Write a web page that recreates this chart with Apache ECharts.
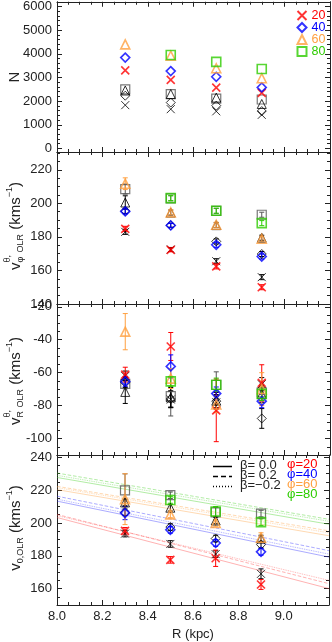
<!DOCTYPE html>
<html lang="en">
<head>
    <meta charset="UTF-8">
    <title>OLR</title>
    <script src="https://cdn.jsdelivr.net/npm/echarts@6/dist/echarts.min.js"></script>
    <style>
        html, body { margin: 0; padding: 0; background: #fff; }
        #main { width: 332px; height: 642px; }
    </style>
</head>
<body>
<div id="main"></div>
<script>
    // radii of the bins
    var R = [8.3, 8.5, 8.7, 8.9];

    // panel 1: N
    var nRed = [3300, 2900, 2570, 2350];
    var nBlue = [3840, 3270, 3030, 2580];
    var nOrange = [4400, 3920, 3390, 2970];
    var nGreen = [null, 3950, 3660, 3360];
    var nBlackX = [1830, 1660, 1570, 1420];
    var nBlackDia = [2230, 1940, 1810, 1580];
    var nBlackTri = [2450, 2300, 2150, 1880];
    var nGraySq = [2500, 2300, 2110, 2070];

    // panel 2: v_phi
    var vpRed = [184.8, 172.3, 162.4, 150.0];
    var vpBlue = [195.2, 186.8, 175.3, 168.3];
    var vpOrange = [211.7, 194.6, 187.2, 178.9];
    var vpGreen = [null, 203.1, 195.6, 188.2];
    var vpBlackX = [183.0, 172.5, 165.5, 156.0];
    var vpBlackDia = [195.5, 187.0, 177.3, 169.8];
    var vpBlackTri = [200.5, 194.5, 187.0, 179.5];
    var vpGraySq = [208.5, 203.0, 195.5, 193.2];
    var vpRedErr = [1.5, 1.2, 1.5, 1.5];
    var vpBlueErr = [1.5, 1.2, 1.5, 1.5];
    var vpOrangeErr = [3.5, 1.5, 1.5, 1.5];
    var vpGreenErr = [null, 1.5, 1.5, 1.5];
    var vpBlackXErr = [1.5, 1.2, 1.5, 1.5];
    var vpBlackDiaErr = [1.5, 1.2, 1.5, 1.5];
    var vpBlackTriErr = [4, 1.5, 1.5, 1.5];
    var vpGraySqErr = [3, 1.5, 1.5, 1.5];

    // panel 3: v_R
    var vrRed = [-61.2, -44.1, -82.9, -66.2];
    var vrBlue = [-65.3, -56.2, -72.7, -77.3];
    var vrOrange = [-35.1, -63.6, -79.3, -70.0];
    var vrGreen = [null, -65.3, -67.3, -72.9];
    var vrBlackX = [-62.0, -76.3, -78.0, -67.0];
    var vrBlackDia = [-66.0, -76.0, -77.3, -87.8];
    var vrBlackTri = [-71.7, -75.0, -77.0, -73.0];
    var vrGraySq = [-66.8, -74.3, -67.5, -72.0];
    var vrRedErr = [4.5, 8.5, 19, 11];
    var vrBlueErr = [3, 7, 4, 4];
    var vrOrangeErr = [11, 6, 5, 10];
    var vrGreenErr = [null, 3, 4, 4];
    var vrBlackXErr = [3, 5, 4, 4];
    var vrBlackDiaErr = [3, 5, 4, 6];
    var vrBlackTriErr = [7, 6, 5, 5];
    var vrGraySqErr = [3, 12, 8, 5];

    // panel 4: v_0
    var v0Red = [195.2, 177.5, 178.5, 162.5];
    var v0Blue = [206.0, 195.8, 187.8, 182.4];
    var v0Orange = [214.5, 205.2, 200.0, 191.0];
    var v0Green = [null, 214.0, 207.0, 200.5];
    var v0BlackX = [193.5, 187.2, 181.0, 169.0];
    var v0BlackDia = [206.5, 197.5, 190.5, 186.8];
    var v0BlackTri = [212.5, 209.3, 201.5, 190.5];
    var v0GraySq = [219.9, 216.9, 206.5, 205.7];
    var v0RedErr = [2, 2, 5, 3];
    var v0BlueErr = [4, 2, 2, 2];
    var v0OrangeErr = [15.5, 2, 2, 3];
    var v0GreenErr = [null, 2, 3, 2];
    var v0BlackXErr = [2, 2, 2, 3];
    var v0BlackDiaErr = [2, 2, 2, 2];
    var v0BlackTriErr = [2, 2, 2, 2];
    var v0GraySqErr = [10, 2, 3, 2];

    // model lines in panel 4 (values at R = 8.0 and 9.2)
    var RLine = [8.0, 9.2];
    var lRed0 = [203.3, 160.0], lRed2 = [205.2, 163.0], lRedM2 = [204.5, 165.0];
    var lBlue0 = [213.3, 179.2], lBlue2 = [216.3, 183.1], lBlueM2 = [214.5, 181.0];
    var lOrange0 = [220.3, 192.2], lOrange2 = [222.3, 195.2], lOrangeM2 = [221.5, 194.0];
    var lGreen0 = [227.7, 199.2], lGreen2 = [230.4, 202.2], lGreenM2 = [229.0, 201.0];

    // axis ranges
    var yMin = [-150, 140, -110, 150];
    var yMax = [6200, 230.6, -18.3, 241.4];
    var yStep = [1000, 20, 20, 20];
    var ySplit = [6, 5, 5, 5];
    var yMinor = [5, 4, 4, 4];

    var FONT = '"Liberation Sans", Arial, sans-serif';
    var INK = '#222';
    var X_PATH = 'path://M0,0L10,10M10,0L0,10';

    var kinds = [
        {name: '20', color: '#ff0000', symbol: X_PATH, size: 8, bw: 1.6},
        {name: '40', color: '#0000ff', symbol: 'diamond', size: 9, bw: 1.6},
        {name: '60', color: '#ffa040', symbol: 'triangle', size: 9, bw: 1.6},
        {name: '80', color: '#2ecc00', symbol: 'rect', size: 9, bw: 1.6},
        {name: 'bx', color: '#000000', symbol: X_PATH, size: 8, bw: 1},
        {name: 'bd', color: '#000000', symbol: 'diamond', size: 9, bw: 1},
        {name: 'bt', color: '#000000', symbol: 'triangle', size: 9, bw: 1},
        {name: 'bs', color: '#555555', symbol: 'rect', size: 9, bw: 1.2}
    ];

    var panelVals = [
        [nRed, nBlue, nOrange, nGreen, nBlackX, nBlackDia, nBlackTri, nGraySq],
        [vpRed, vpBlue, vpOrange, vpGreen, vpBlackX, vpBlackDia, vpBlackTri, vpGraySq],
        [vrRed, vrBlue, vrOrange, vrGreen, vrBlackX, vrBlackDia, vrBlackTri, vrGraySq],
        [v0Red, v0Blue, v0Orange, v0Green, v0BlackX, v0BlackDia, v0BlackTri, v0GraySq]
    ];
    var panelErrs = [
        null,
        [vpRedErr, vpBlueErr, vpOrangeErr, vpGreenErr, vpBlackXErr, vpBlackDiaErr, vpBlackTriErr, vpGraySqErr],
        [vrRedErr, vrBlueErr, vrOrangeErr, vrGreenErr, vrBlackXErr, vrBlackDiaErr, vrBlackTriErr, vrGraySqErr],
        [v0RedErr, v0BlueErr, v0OrangeErr, v0GreenErr, v0BlackXErr, v0BlackDiaErr, v0BlackTriErr, v0GraySqErr]
    ];
    // draw order: black first, colours on top
    var order = [7, 6, 5, 4, 0, 1, 2, 3];

    var tops = [0, 152, 304, 455];
    var heights = [152, 152, 151, 152];

    var grids = [], xAxes = [], yAxes = [], series = [];

    for (var p = 0; p < 4; p++) {
        grids.push({left: 57, right: 2, top: tops[p], height: heights[p]});
        ['bottom', 'top'].forEach(function (pos) {
            var labelled = (p === 3 && pos === 'bottom');
            xAxes.push({
                type: 'value', gridIndex: p, position: pos,
                min: 8.0, max: 9.2, interval: 0.2,
                axisLine: {show: true, onZero: false, lineStyle: {color: INK, width: 1}},
                axisTick: {show: true, inside: true, length: 5, lineStyle: {color: INK}},
                minorTick: {show: true, splitNumber: 4, length: 3, lineStyle: {color: INK}},
                splitLine: {show: false},
                axisLabel: {
                    show: labelled, fontSize: 13, fontFamily: FONT, color: INK, margin: 5,
                    formatter: function (v) { return v > 9.15 ? '' : v.toFixed(1); }
                },
                name: labelled ? 'R (kpc)' : '',
                nameLocation: 'middle', nameGap: 23,
                nameTextStyle: {fontSize: 13, fontFamily: FONT, color: INK}
            });
        });
        (function (p) {
            ['left', 'right'].forEach(function (pos) {
                yAxes.push({
                    type: 'value', gridIndex: p, position: pos,
                    min: yMin[p], max: yMax[p], splitNumber: ySplit[p],
                    axisLine: {show: true, onZero: false, lineStyle: {color: INK, width: 1}},
                    axisTick: {show: true, inside: true, length: 5, lineStyle: {color: INK}},
                    minorTick: {show: true, splitNumber: yMinor[p], length: 3, lineStyle: {color: INK}},
                    splitLine: {show: false},
                    axisLabel: {
                        show: pos === 'left', fontSize: 13, fontFamily: FONT, color: INK, margin: 5,
                        showMinLabel: true, showMaxLabel: true,
                        formatter: function (v) {
                            var k = v / yStep[p];
                            return Math.abs(k - Math.round(k)) < 1e-6 ? String(Math.round(v)) : '';
                        }
                    }
                });
            });
        })(p);
    }

    function errRender(params, api) {
        var x = api.value(0), lo = api.value(1), hi = api.value(2);
        var a = api.coord([x, lo]), b = api.coord([x, hi]);
        var c = 2.5;
        var st = {stroke: api.visual('color'), lineWidth: 1};
        return {
            type: 'group', children: [
                {type: 'line', shape: {x1: a[0], y1: a[1], x2: b[0], y2: b[1]}, style: st},
                {type: 'line', shape: {x1: a[0] - c, y1: a[1], x2: a[0] + c, y2: a[1]}, style: st},
                {type: 'line', shape: {x1: b[0] - c, y1: b[1], x2: b[0] + c, y2: b[1]}, style: st}
            ]
        };
    }

    // model lines first (under the points)
    var modelLines = [
        [lRed0, '#ff4040', 'solid'], [lRed2, '#ff4040', 'dashed'], [lRedM2, '#ff4040', 'dotted'],
        [lBlue0, '#3030ff', 'solid'], [lBlue2, '#3030ff', 'dashed'], [lBlueM2, '#3030ff', 'dotted'],
        [lOrange0, '#ffa040', 'solid'], [lOrange2, '#ffa040', 'dashed'], [lOrangeM2, '#ffa040', 'dotted'],
        [lGreen0, '#40d020', 'solid'], [lGreen2, '#40d020', 'dashed'], [lGreenM2, '#40d020', 'dotted']
    ];
    modelLines.forEach(function (m, i) {
        series.push({
            type: 'line', name: 'model' + i, xAxisIndex: 6, yAxisIndex: 6,
            data: RLine.map(function (r, j) { return [r, m[0][j]]; }),
            symbol: 'none', silent: true,
            lineStyle: {color: m[1], width: 0.9, type: m[2], opacity: 0.45},
            z: 1
        });
    });

    for (var p2 = 0; p2 < 4; p2++) {
        order.forEach(function (k) {
            var kind = kinds[k];
            var vals = panelVals[p2][k];
            var errs = panelErrs[p2] ? panelErrs[p2][k] : null;
            if (errs) {
                var ed = [];
                R.forEach(function (r, i) {
                    if (vals[i] != null && errs[i] != null) ed.push([r, vals[i] - errs[i], vals[i] + errs[i]]);
                });
                series.push({
                    type: 'custom', name: 'err' + p2 + kind.name,
                    xAxisIndex: p2 * 2, yAxisIndex: p2 * 2,
                    renderItem: errRender, data: ed, clip: true, silent: true,
                    encode: {x: 0, y: [1, 2]},
                    itemStyle: {color: kind.color, opacity: 0.7}, z: 2
                });
            }
            var d = [];
            R.forEach(function (r, i) { if (vals[i] != null) d.push([r, vals[i]]); });
            series.push({
                type: 'scatter',
                name: p2 === 0 && k < 4 ? kind.name : 'p' + p2 + kind.name,
                xAxisIndex: p2 * 2, yAxisIndex: p2 * 2,
                data: d, symbol: kind.symbol, symbolSize: kind.size,
                itemStyle: {color: 'none', borderColor: kind.color, borderWidth: kind.bw},
                z: 3
            });
        });
    }

    // rotated axis titles built from pieces (sub/superscripts)
    var measureCtx = document.createElement('canvas').getContext('2d');
    function textW(t, s) {
        measureCtx.font = s + 'px ' + FONT;
        return measureCtx.measureText(t).width;
    }
    function vTitle(cx, cy, parts) {
        var x = 0, lastW = 0, kids = [];
        parts.forEach(function (q) {
            var w = textW(q.t, q.s);
            var x0 = q.stack ? x - lastW : x;
            kids.push({
                type: 'text', x: x0, y: q.dy || 0,
                style: {text: q.t, font: q.s + 'px ' + FONT, fill: INK, align: 'left', verticalAlign: 'middle'}
            });
            x = q.stack ? Math.max(x, x0 + w) : x0 + w;
            lastW = w;
        });
        kids.forEach(function (c) { c.x -= x / 2; });
        return {type: 'group', x: cx, y: cy, rotation: Math.PI / 2, children: kids};
    }

    var graphics = [
        vTitle(15, 77, [{t: 'N', s: 15}]),
        vTitle(16, 226, [
            {t: 'v', s: 15}, {t: 'θ,', s: 9, dy: -8}, {t: 'φ', s: 9, dy: 5, stack: true},
            {t: ' OLR', s: 9, dy: 5}, {t: ' (kms', s: 15}, {t: '−1', s: 9, dy: -6}, {t: ')', s: 15}
        ]),
        vTitle(16, 381, [
            {t: 'v', s: 15}, {t: 'θ,', s: 9, dy: -8}, {t: 'R', s: 9, dy: 5, stack: true},
            {t: ' OLR', s: 9, dy: 5}, {t: ' (kms', s: 15}, {t: '−1', s: 9, dy: -6}, {t: ')', s: 15}
        ]),
        vTitle(16, 528, [
            {t: 'v', s: 15}, {t: '0,OLR', s: 9, dy: 5}, {t: ' (kms', s: 15}, {t: '−1', s: 9, dy: -6}, {t: ')', s: 15}
        ])
    ];

    // panel 4 legend
    var betaLabels = ['β= 0.0', 'β= 0.2', 'β=−0.2'];
    var betaDash = [null, [5, 3], [1, 2]];
    betaLabels.forEach(function (t, i) {
        graphics.push({
            type: 'line', shape: {x1: 213, y1: 466.5 + i * 10, x2: 232, y2: 466.5 + i * 10},
            style: {stroke: '#000', lineWidth: 1.5, lineDash: betaDash[i]}
        });
        graphics.push({
            type: 'text', x: 240, y: 465 + i * 10,
            style: {text: t, font: '13px ' + FONT, fill: INK, verticalAlign: 'middle'}
        });
    });
    var phiLabels = ['φ=20', 'φ=40', 'φ=60', 'φ=80'];
    var phiColors = ['#ff0000', '#0000ff', '#ffa040', '#2ecc00'];
    phiLabels.forEach(function (t, i) {
        graphics.push({
            type: 'text', x: 287, y: 464 + i * 10,
            style: {text: t, font: '13px ' + FONT, fill: phiColors[i], verticalAlign: 'middle'}
        });
    });

    var option = {
        animation: false,
        backgroundColor: '#fff',
        grid: grids,
        xAxis: xAxes,
        yAxis: yAxes,
        legend: {
            orient: 'vertical', left: 295, top: 8.5, padding: 0,
            itemWidth: 9, itemHeight: 9, itemGap: -2, selectedMode: false,
            textStyle: {fontSize: 12.5, fontFamily: FONT, lineHeight: 11},
            data: [
                {name: '20', textStyle: {color: '#ff0000'}},
                {name: '40', textStyle: {color: '#0000ff'}},
                {name: '60', textStyle: {color: '#ffa040'}},
                {name: '80', textStyle: {color: '#2ecc00'}}
            ]
        },
        graphic: graphics,
        series: series
    };

    var myChart = echarts.init(document.getElementById('main'));
    myChart.setOption(option);
</script>
</body>
</html>
